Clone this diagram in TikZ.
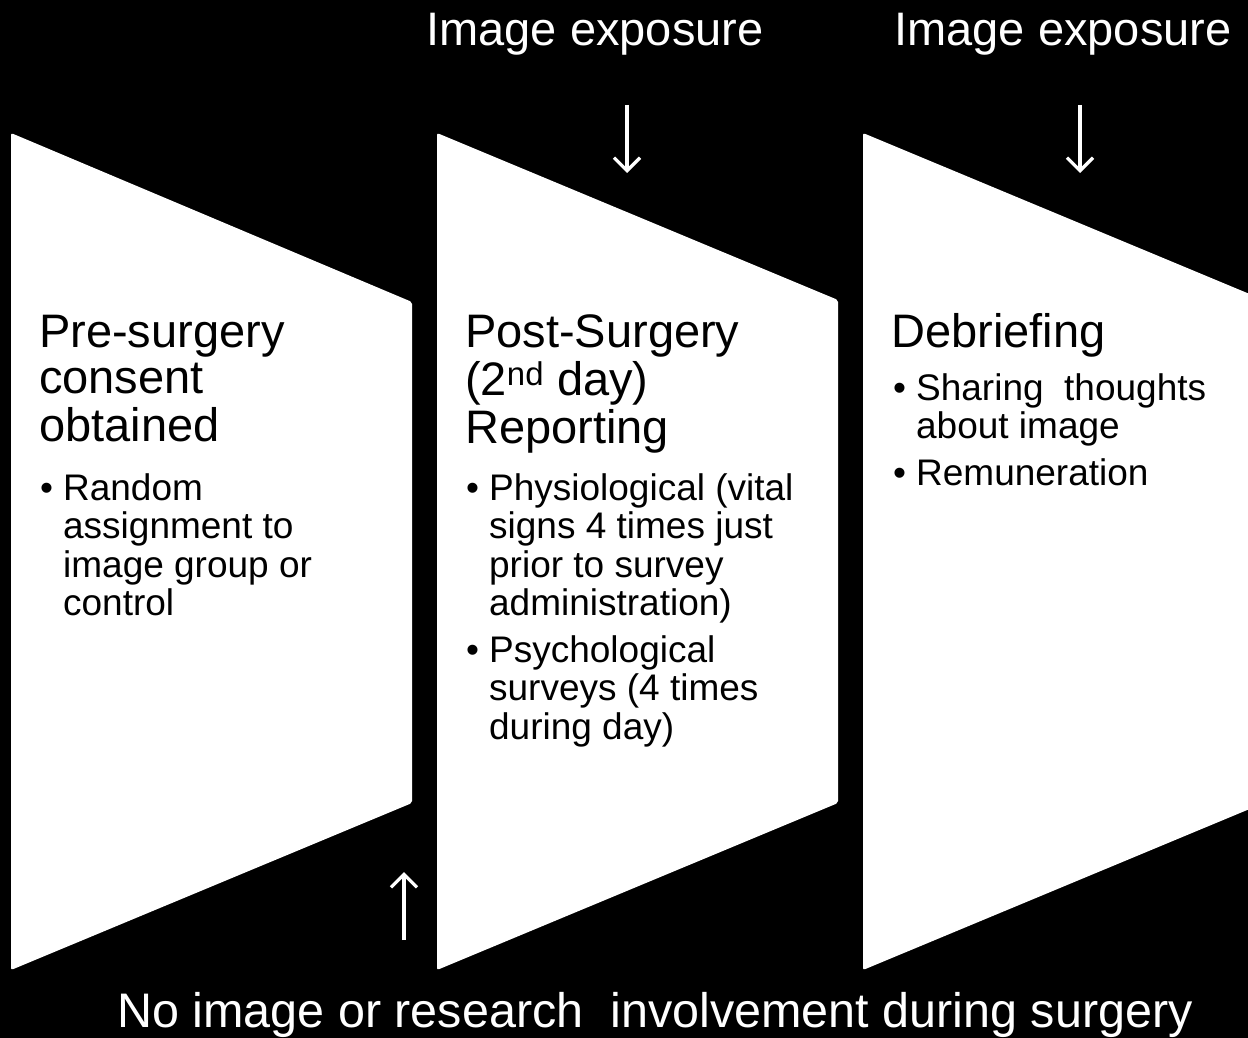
\documentclass[tikz,border=0pt]{standalone}
\usepackage{fontspec}
\setmainfont{Liberation Sans}
\usetikzlibrary{arrows.meta}
\begin{document}
\begin{tikzpicture}[x=1pt,y=-1pt,
  panel/.style={fill=white, rounded corners=2pt},
  head/.style={anchor=base west, inner sep=0pt, text=black, font=\fontsize{47}{46.5}\selectfont},
  blist/.style={anchor=base west, inner sep=0pt, text=black, font=\fontsize{37}{38.5}\selectfont},
  outlabel/.style={anchor=base, inner sep=0pt, text=white, font=\fontsize{47}{50}\selectfont},
  arr/.style={white, line width=3.2pt, -{Straight Barb[length=13pt,width=26pt]}}]
\fill[black] (0,0) rectangle (1248,1038);
\begin{scope}
  \clip (0,0) rectangle (1248,1038);
  \fill[panel] (11,133) -- (412,302) -- (412,803) -- (11,970) -- cycle;
  \fill[panel] (437,133) -- (838,300) -- (838,803) -- (437,970) -- cycle;
  \fill[panel] (863,133) -- (1264,300) -- (1264,803) -- (863,970) -- cycle;
\end{scope}

% headings
\node[head] (h1) at (39,347) {\begin{tabular}[t]{@{}l@{}}Pre-surgery\\consent\\obtained\end{tabular}};
\node[head] (h2) at (465,347) {\begin{tabular}[t]{@{}l@{}}Post-Surgery\\(2\textsuperscript{nd} day)\\Reporting\end{tabular}};
\node[head] (h3) at (891,347) {\begin{tabular}[t]{@{}l@{}}Debriefing\end{tabular}};

% bullet lists
\node[blist] (b1) at (40,500) {\begin{tabular}[t]{@{}l@{\hspace{10pt}}l@{}}
• & Random\\ & assignment to\\ & image group or\\ & control\end{tabular}};
\node[blist] (b2) at (466,500) {\begin{tabular}[t]{@{}l@{\hspace{10pt}}l@{}}
• & Physiological (vital\\ & signs 4 times just\\ & prior to survey\\ & administration)\\[8pt]
• & Psychological\\ & surveys (4 times\\ & during day)\end{tabular}};
\node[blist] (b3) at (893,400) {\begin{tabular}[t]{@{}l@{\hspace{10pt}}l@{}}
• & Sharing\ \ thoughts\\ & about image\\[8pt]
• & Remuneration\end{tabular}};

% outside labels
\node[outlabel] (t1) at (595,46) {Image exposure};
\node[outlabel] (t2) at (1063,46) {Image exposure};
\node[outlabel, font=\fontsize{48.5}{50}\selectfont] (t3) at (655,1027) {No image or research\ \ involvement during surgery};

% arrows
\coordinate (d1s) at (627,105);
\coordinate (d1e) at (627,173);
\coordinate (d2s) at (1080,105);
\coordinate (d2e) at (1080,173);
\coordinate (u1s) at (404,940);
\coordinate (u1e) at (404,872);
\draw[arr] (d1s) -- (d1e);
\draw[arr] (d2s) -- (d2e);
\draw[arr] (u1s) -- (u1e);
\end{tikzpicture}
\end{document}
